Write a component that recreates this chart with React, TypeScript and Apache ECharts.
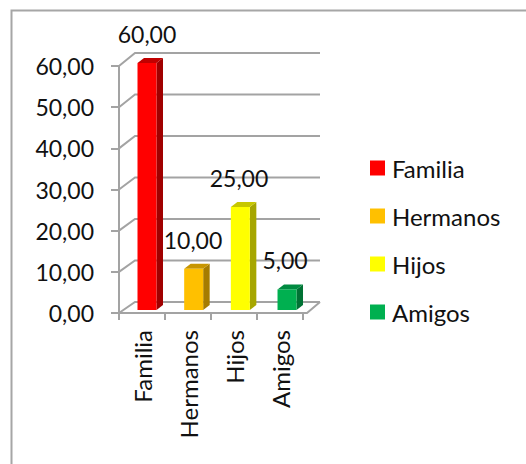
import React, { useEffect, useRef } from "react";
import * as echarts from "echarts";

const categories = ["Familia", "Hermanos", "Hijos", "Amigos"];
const values = [60, 10, 25, 5];
const frontColors = ["#ff0000", "#ffc000", "#ffff00", "#00b050"];
const sideColors = ["#a00000", "#a67c00", "#a6a600", "#007234"];
const topColors = ["#c00000", "#c79500", "#c7c700", "#008a40"];
const yTicks = [0, 10, 20, 30, 40, 50, 60];

const FONT = "Lato";
const GRID = "#a3a3a3";
const fmt = (v: number) => v.toFixed(2).replace(".", ",");

export default function App() {
  const ref = useRef<HTMLDivElement>(null);
  useEffect(() => {
    document.body.style.margin = "0";
    const chart = echarts.init(ref.current!, null, { renderer: "svg" });
    const wall = {
      type: "custom",
      silent: true,
      z: 1,
      data: yTicks.map((v) => [0, v]),
      renderItem: (params: any, api: any) => {
        const v = api.value(1);
        const y = api.coord([0, v])[1];
        const cs = params.coordSys;
        const x0 = cs.x;
        const x1 = cs.x + cs.width;
        const dy = 11 + v / 30;
        const line = { stroke: GRID, lineWidth: 2, fill: "none" };
        const children: any[] = [
          { type: "polyline", shape: { points: [[x0, y], [x0 + 16, y - dy], [x1 + 17, y - dy]] }, style: line },
        ];
        if (v === 0) {
          children.push({ type: "polyline", shape: { points: [[x0, y], [x1 + 4, y], [x1 + 17, y - dy]] }, style: line });
        }
        return { type: "group", children };
      },
    };
    const bars = categories.map((name, i) => ({
      type: "custom",
      name,
      z: 3,
      itemStyle: { color: frontColors[i] },
      data: [[i, values[i]]],
      renderItem: (_p: any, api: any) => {
        const base = api.coord([api.value(0), 0]);
        const top = api.coord([api.value(0), api.value(1)]);
        const cx = base[0] + 5 + i * 0.67;
        const hw = 9.5;
        const l = cx - hw;
        const r = cx + hw;
        const b = base[1] - 3;
        const t = top[1] - 3;
        const dx = 6.5;
        const dy = 5;
        return {
          type: "group",
          children: [
            { type: "polygon", shape: { points: [[r, t], [r + dx, t - dy], [r + dx, b - dy], [r, b]] }, style: { fill: sideColors[i] } },
            { type: "polygon", shape: { points: [[l, t], [l + dx, t - dy], [r + dx, t - dy], [r, t]] }, style: { fill: topColors[i] } },
            { type: "rect", shape: { x: l, y: t, width: r - l, height: b - t }, style: { fill: frontColors[i] } },
            {
              type: "text",
              z2: 10,
              style: {
                x: base[0] + 5,
                y: t - 29,
                text: fmt(api.value(1)),
                fill: "#111",
                font: `23px "${FONT}"`,
                align: "center",
                verticalAlign: "middle",
              },
            },
          ],
        };
      },
    }));
    chart.setOption({
      animation: false,
      backgroundColor: "#fff",
      textStyle: { fontFamily: FONT },
      grid: { left: 119, top: 66, width: 184, height: 247 },
      xAxis: {
        type: "category",
        data: categories,
        axisLine: { show: true, lineStyle: { color: GRID, width: 2 } },
        axisTick: { show: true, length: 7, alignWithLabel: false, lineStyle: { color: GRID, width: 2 } },
        axisLabel: { rotate: 90, color: "#111", fontSize: 24, fontFamily: FONT, margin: 17, interval: 0, padding: [4, 0, 0, 0] },
        splitLine: { show: false },
      },
      yAxis: {
        type: "value",
        min: 0,
        max: 60,
        interval: 10,
        axisLine: { show: true, lineStyle: { color: GRID, width: 2 } },
        axisTick: { show: true, length: 8, lineStyle: { color: GRID, width: 2 } },
        axisLabel: { color: "#111", fontSize: 23, fontFamily: FONT, margin: 25, formatter: (v: number) => fmt(v) },
        splitLine: { show: false },
      },
      legend: {
        orient: "vertical",
        left: 365,
        top: 151,
        itemWidth: 15,
        itemHeight: 15,
        itemGap: 24,
        selectedMode: false,
        textStyle: { color: "#111", fontSize: 24, fontFamily: FONT, padding: [0, 0, 0, 2] },
        data: categories.map((name) => ({ name, icon: "rect" })),
      },
      graphic: [
        {
          type: "polyline",
          silent: true,
          z: -1,
          shape: { points: [[11.5, 464], [11.5, 10.5], [526, 10.5]] },
          style: { fill: "none", stroke: "#a6a6a6", lineWidth: 2 },
        },
      ],
      series: [wall, ...bars],
    });
    return () => chart.dispose();
  }, []);
  return <div ref={ref} style={{ position: "fixed", left: 0, top: 0, width: 526, height: 464 }} />;
}
